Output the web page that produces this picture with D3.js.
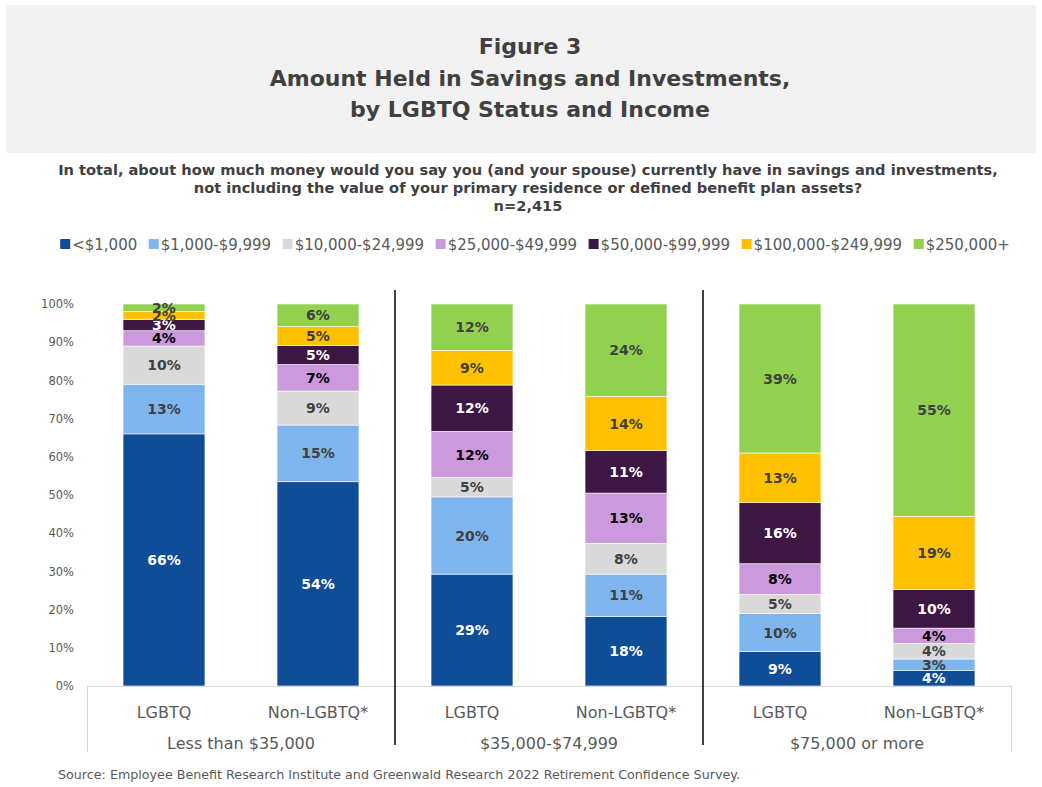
<!DOCTYPE html>
<html>
<head>
<meta charset="utf-8">
<script src="https://cdn.jsdelivr.net/npm/d3@7"></script>
<style>
  body { margin: 0; background: #fff; }
  svg { display: block; font-family: "DejaVu Sans", sans-serif; }
</style>
</head>
<body>
<svg id="chart" width="1042" height="787"></svg>
<script>
// income groups and respondent status
const groups = ["Less than $35,000", "$35,000-$74,999", "$75,000 or more"];
const statuses = ["LGBTQ", "Non-LGBTQ*"];
const series = ["<$1,000", "$1,000-$9,999", "$10,000-$24,999", "$25,000-$49,999",
                "$50,000-$99,999", "$100,000-$249,999", "$250,000+"];

// percent per bar, bar order: <35k LGBTQ, <35k Non, 35-75k LGBTQ, 35-75k Non, 75k+ LGBTQ, 75k+ Non
const lt1k      = [66, 54, 29, 18,  9,  4];
const k1to10    = [13, 15, 20, 11, 10,  3];
const k10to25   = [10,  9,  5,  8,  5,  4];
const k25to50   = [ 4,  7, 12, 13,  8,  4];
const k50to100  = [ 3,  5, 12, 11, 16, 10];
const k100to250 = [ 2,  5,  9, 14, 13, 19];
const k250plus  = [ 2,  6, 12, 24, 39, 55];
const seriesValues = [lt1k, k1to10, k10to25, k25to50, k50to100, k100to250, k250plus];

const colors = ["#0f4d96", "#7fb5ee", "#d9d9d9", "#cc99dd", "#3c1743", "#ffc000", "#92d050"];
const labelColors = ["#ffffff", "#404040", "#404040", "#000000", "#ffffff", "#404040", "#404040"];

const yTicks = [0, 0.1, 0.2, 0.3, 0.4, 0.5, 0.6, 0.7, 0.8, 0.9, 1];

const svg = d3.select("#chart");

// header box
svg.append("rect")
    .attr("x", 6).attr("y", 5)
    .attr("width", 1030).attr("height", 148)
    .attr("fill", "#f2f2f2");

const titleLines = ["Figure 3", "Amount Held in Savings and Investments,", "by LGBTQ Status and Income"];
svg.append("g").selectAll("text")
    .data(titleLines)
    .join("text")
    .attr("x", 530)
    .attr("y", (d, i) => 54 + i * 31.5)
    .attr("text-anchor", "middle")
    .attr("font-size", 22)
    .attr("font-weight", "bold")
    .attr("fill", "#404040")
    .text(d => d);

const subLines = [
  "In total, about how much money would you say you (and your spouse) currently have in savings and investments,",
  "not including the value of your primary residence or defined benefit plan assets?",
  "n=2,415"
];
svg.append("g").selectAll("text")
    .data(subLines)
    .join("text")
    .attr("x", 528)
    .attr("y", (d, i) => 175 + i * 18)
    .attr("text-anchor", "middle")
    .attr("font-size", 14.6)
    .attr("font-weight", "bold")
    .attr("fill", "#404040")
    .text(d => d);

// legend
const legend = svg.append("g");
const items = legend.selectAll("g")
    .data(series)
    .join("g");
items.append("rect")
    .attr("width", 10).attr("height", 10)
    .attr("y", 239)
    .attr("fill", (d, i) => colors[i]);
items.append("text")
    .attr("x", 12)
    .attr("y", 249.5)
    .attr("font-size", 15)
    .attr("fill", "#595959")
    .text(d => d);
let lx = 0;
const widths = [];
items.each(function () {
  widths.push(12 + d3.select(this).select("text").node().getComputedTextLength());
});
const gap = 11.5;
const totalW = d3.sum(widths) + gap * (widths.length - 1);
lx = 535 - totalW / 2;
items.attr("transform", (d, i) => {
  const t = `translate(${lx},0)`;
  lx += widths[i] + gap;
  return t;
});

// bars
const bars = [];
groups.forEach((g, gi) => statuses.forEach((s, si) => {
  const idx = gi * 2 + si;
  const vals = seriesValues.map(v => v[idx]);
  const total = d3.sum(vals);
  let acc = 0;
  const segs = vals.map((v, k) => {
    const seg = { key: series[k], k, value: v, y0: acc / total, y1: (acc + v) / total };
    acc += v;
    return seg;
  });
  bars.push({ id: g + "|" + s, group: g, status: s, segs });
}));

const x = d3.scaleBand()
    .domain(bars.map(b => b.id))
    .range([87, 1011])
    .paddingInner(0.468)
    .paddingOuter(0.234);

const y = d3.scaleLinear().domain([0, 1]).range([686, 304]);

const yAxis = d3.axisLeft(y)
    .tickValues(yTicks)
    .tickSize(0)
    .tickPadding(0)
    .tickFormat(d3.format(".0%"));
svg.append("g")
    .attr("transform", "translate(74,0)")
    .call(yAxis)
    .call(g => g.select(".domain").remove())
    .selectAll("text")
    .attr("font-family", "DejaVu Sans, sans-serif")
    .attr("font-size", 11.5)
    .attr("fill", "#595959");

const barG = svg.append("g").selectAll("g")
    .data(bars)
    .join("g")
    .attr("transform", d => `translate(${x(d.id)},0)`);

barG.selectAll("rect")
    .data(d => d.segs)
    .join("rect")
    .attr("x", 0)
    .attr("width", x.bandwidth())
    .attr("y", d => y(d.y1))
    .attr("height", d => y(d.y0) - y(d.y1))
    .attr("fill", d => colors[d.k])
    .attr("stroke", "#ffffff")
    .attr("stroke-width", 0.6);

barG.selectAll("text")
    .data(d => d.segs)
    .join("text")
    .attr("x", x.bandwidth() / 2)
    .attr("y", d => y((d.y0 + d.y1) / 2))
    .attr("dy", "0.36em")
    .attr("text-anchor", "middle")
    .attr("font-size", 14)
    .attr("font-weight", "bold")
    .attr("fill", d => labelColors[d.k])
    .text(d => d.value + "%");

// category axis frame
const axisY = y(0);
const frame = svg.append("g")
    .attr("stroke", "#d9d9d9")
    .attr("stroke-width", 1)
    .attr("fill", "none");
frame.append("line").attr("x1", 87).attr("x2", 1011).attr("y1", axisY + 0.5).attr("y2", axisY + 0.5);
frame.append("line").attr("x1", 87.5).attr("x2", 87.5).attr("y1", axisY).attr("y2", 752);
frame.append("line").attr("x1", 1011.5).attr("x2", 1011.5).attr("y1", axisY).attr("y2", 752);

// group separators
const step = x.step();
const sepX = [1, 2].map(i => x(bars[i * 2].id) - (step - x.bandwidth()) / 2);
svg.append("g").selectAll("line")
    .data(sepX)
    .join("line")
    .attr("x1", d => d).attr("x2", d => d)
    .attr("y1", 290).attr("y2", 745)
    .attr("stroke", "#000")
    .attr("stroke-width", 1.5);

// status labels
svg.append("g").selectAll("text")
    .data(bars)
    .join("text")
    .attr("x", d => x(d.id) + x.bandwidth() / 2)
    .attr("y", 718)
    .attr("text-anchor", "middle")
    .attr("font-size", 16)
    .attr("fill", "#595959")
    .text(d => d.status);

// group labels
svg.append("g").selectAll("text")
    .data(groups)
    .join("text")
    .attr("x", (d, i) => (x(bars[i * 2].id) + x(bars[i * 2 + 1].id) + x.bandwidth()) / 2)
    .attr("y", 749)
    .attr("text-anchor", "middle")
    .attr("font-size", 16)
    .attr("fill", "#595959")
    .text(d => d);

// source
svg.append("text")
    .attr("x", 58)
    .attr("y", 779)
    .attr("font-size", 12.7)
    .attr("fill", "#595959")
    .text("Source: Employee Benefit Research Institute and Greenwald Research 2022 Retirement Confidence Survey.");
</script>
</body>
</html>
